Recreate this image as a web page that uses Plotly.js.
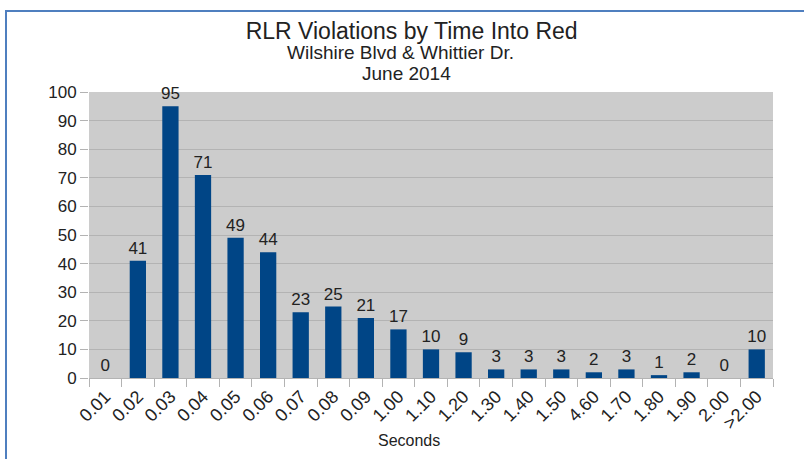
<!DOCTYPE html>
<html>
<head>
<meta charset="utf-8">
<script src="https://cdn.plot.ly/plotly-3.0.1.min.js"></script>
<style>
  html, body { margin: 0; padding: 0; background: #ffffff; }
  #wrap { position: relative; width: 804px; height: 459px; overflow: hidden; }
  #chart { position: absolute; left: 0; top: 0; width: 804px; height: 459px; }
  .edge { position: absolute; background: #4f7fbf; pointer-events: none; }
</style>
</head>
<body>
<div id="wrap">
  <div id="chart"></div>
  <div class="edge" style="left:5px; top:10px; width:2px; height:449px;"></div>
  <div class="edge" style="left:5px; top:10px; width:799px; height:2px;"></div>
</div>
<script>
// Seconds into red at which the violation occurred
const categories = ["0.01", "0.02", "0.03", "0.04", "0.05", "0.06", "0.07", "0.08", "0.09",
                    "1.00", "1.10", "1.20", "1.30", "1.40", "1.50", "4.60", "1.70", "1.80",
                    "1.90", "2.00", ">2.00"];
// Number of violations in each bucket
const violations = [0, 41, 95, 71, 49, 44, 23, 25, 21, 17, 10, 9, 3, 3, 3, 2, 3, 1, 2, 0, 10];

const yTickValues = [0, 10, 20, 30, 40, 50, 60, 70, 80, 90, 100];

const font = "Liberation Sans, Arial, sans-serif";

const trace = {
  type: "bar",
  x: categories,
  y: violations,
  marker: { color: "#004586" },
  text: violations.map(String),
  textposition: "outside",
  constraintext: "none",
  cliponaxis: false,
  textfont: { family: font, size: 17, color: "#222222" },
  hoverinfo: "x+y"
};

const layout = {
  width: 804,
  height: 459,
  margin: { l: 89, r: 31, t: 92, b: 81 },
  paper_bgcolor: "rgba(0,0,0,0)",
  plot_bgcolor: "#cccccc",
  bargap: 0.5,
  showlegend: false,
  font: { family: font, color: "#222222" },
  title: {
    text: "RLR Violations by Time Into Red",
    font: { family: font, size: 23, color: "#222222" },
    x: 0.512, xanchor: "center",
    y: 0.933, yanchor: "middle"
  },
  annotations: [
    { text: "Wilshire Blvd &amp; Whittier Dr.", xref: "paper", yref: "paper",
      x: 0.455, y: 1.138, xanchor: "center", yanchor: "middle", showarrow: false,
      font: { family: font, size: 19, color: "#222222" } },
    { text: "June 2014", xref: "paper", yref: "paper",
      x: 0.464, y: 1.064, xanchor: "center", yanchor: "middle", showarrow: false,
      font: { family: font, size: 19, color: "#222222" } },
    { text: "Seconds", xref: "paper", yref: "paper",
      x: 0.468, y: -0.22, xanchor: "center", yanchor: "middle", showarrow: false,
      font: { family: font, size: 16, color: "#222222" } }
  ],
  xaxis: {
    type: "category",
    tickangle: -45,
    ticks: "outside",
    tickson: "boundaries",
    ticklen: 8,
    tickcolor: "#b3b3b3",
    showline: true,
    linecolor: "#b3b3b3",
    showgrid: false,
    tickfont: { family: font, size: 18, color: "#222222" }
  },
  yaxis: {
    range: [0, 100],
    tickvals: yTickValues,
    ticktext: yTickValues.map(String),
    ticks: "outside",
    ticklen: 8,
    tickcolor: "#b3b3b3",
    showgrid: true,
    gridcolor: "#b3b3b3",
    gridwidth: 1,
    zeroline: false,
    showline: false,
    tickfont: { family: font, size: 17, color: "#222222" }
  }
};

Plotly.newPlot("chart", [trace], layout, { displayModeBar: false, staticPlot: true });
</script>
</body>
</html>
